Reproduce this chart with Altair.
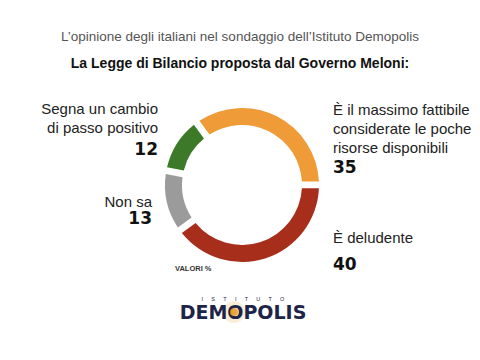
import math
import altair as alt
import pandas as pd

# ---- data ----
categories = ["È il massimo fattibile considerate le poche risorse disponibili",
              "È deludente", "Non sa", "Segna un cambio di passo positivo"]
values = [35, 40, 13, 12]
order = [1, 2, 3, 4]
colors = ["#EE9B38", "#A82E1C", "#9B9B9B", "#3C7A29"]

subtitle = "L\u2019opinione degli italiani nel sondaggio dell\u2019Istituto Demopolis"
title = "La Legge di Bilancio proposta dal Governo Meloni:"
lab_green = ["Segna un cambio", "di passo positivo"]
lab_gray = ["Non sa"]
lab_orange = ["È il massimo fattibile", "considerate le poche", "risorse disponibili"]
lab_red = ["È deludente"]
num_green, num_gray, num_orange, num_red = "12", "13", "35", "40"
note = "VALORI %"
logo_top = "I\u2003\u2002S\u2003\u2002T\u2003\u2002I\u2003\u2002T\u2003\u2002U\u2003\u2002T\u2003\u2002O"
logo_main = "DEMOPOLIS"

df = pd.DataFrame({"cat": categories, "value": values, "order": order})

OFF = 8  # page margin
start = -0.63

SANS = "Liberation Sans"
HEAVY = "DejaVu Sans"

donut = alt.Chart(df).mark_arc(radius=77, radius2=60, padAngle=0.07).encode(
    x=alt.value(242 - OFF), y=alt.value(185 - OFF),
    theta=alt.Theta("value:Q", stack=True,
                    scale=alt.Scale(range=[start, 2 * math.pi + start])),
    color=alt.Color("cat:N", scale=alt.Scale(domain=categories, range=colors), legend=None),
    order=alt.Order("order:Q"),
)


def txt(s, x, y, size, font, weight="normal", align="left", color="#222", line_height=None):
    kw = dict(fontSize=size, font=font, fontWeight=weight, align=align,
              baseline="alphabetic", color=color)
    if isinstance(s, list):
        s = "\n".join(s)
        kw["lineBreak"] = "\n"
        if line_height:
            kw["lineHeight"] = line_height
    return alt.Chart(pd.DataFrame({"t": [s]})).mark_text(**kw).encode(
        x=alt.value(x - OFF), y=alt.value(y - OFF), text="t:N")


glow = alt.Chart(pd.DataFrame({"v": [1]})).mark_circle(
    size=480, color="#F3DDB0", opacity=0.5).encode(
    x=alt.value(234 - OFF), y=alt.value(312 - OFF))
glow2 = alt.Chart(pd.DataFrame({"v": [1]})).mark_circle(
    size=60, color="#E9A12E", opacity=0.95).encode(
    x=alt.value(234 - OFF), y=alt.value(312 - OFF))

layers = [
    donut,
    txt(subtitle, 240, 41, 13.5, SANS, color="#555", align="center"),
    txt(title, 240, 68, 14, SANS, weight="bold", color="#111", align="center"),
    txt(lab_green, 158, 114, 15, SANS, align="right", line_height=19),
    txt(num_green, 158, 155, 17, HEAVY, weight="bold", align="right", color="#111"),
    txt(lab_gray, 152, 207, 15, SANS, align="right"),
    txt(num_gray, 152, 224, 17, HEAVY, weight="bold", align="right", color="#111"),
    txt(lab_orange, 333, 115, 15, SANS, line_height=19),
    txt(num_orange, 333, 173, 17, HEAVY, weight="bold", color="#111"),
    txt(lab_red, 333, 243, 15, SANS),
    txt(num_red, 333, 270, 17, HEAVY, weight="bold", color="#111"),
    txt(note, 175, 271, 7.5, SANS, weight="bold", color="#333"),
    glow,
    txt(logo_top, 243, 301, 5.5, SANS, align="center", color="#1d2448"),
    txt(logo_main, 243, 319, 19, HEAVY, weight="bold", align="center", color="#1d2448"),
    glow2,
]

chart = alt.layer(*layers).properties(
    width=464, height=344, padding=0, autosize="none", background="white"
).configure_view(stroke=None)

chart.save("out.html", embed_options={"renderer": "svg", "actions": False})
